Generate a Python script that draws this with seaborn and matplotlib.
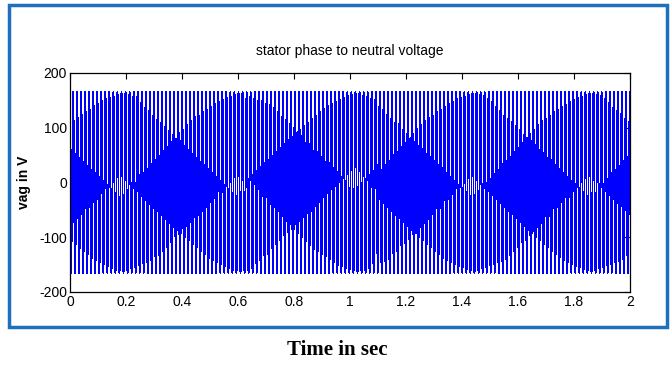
import matplotlib
matplotlib.use("Agg")
import matplotlib.pyplot as plt
import numpy as np
import pandas as pd
import seaborn as sns
from matplotlib.patches import Rectangle

# values
peak_voltage = 165.0          # V, height of the teeth
supply_freq = 69.4            # Hz, dense teeth over 2 s
start_phase_deg = 166.2       # waveform starts near +40 V, going down
time_span = [0.0, 2.0]        # s
sample_step = 5e-5            # s

x_ticks = [0, 0.2, 0.4, 0.6, 0.8, 1, 1.2, 1.4, 1.6, 1.8, 2]
x_tick_labels = ["0", "0.2", "0.4", "0.6", "0.8", "1", "1.2", "1.4", "1.6", "1.8", "2"]
y_ticks = [-200, -100, 0, 100, 200]
y_tick_labels = ["-200", "-100", "0", "100", "200"]


def main():
    sns.set_theme(style="white")
    plt.rcParams["font.family"] = ["Liberation Sans", "DejaVu Sans"]
    plt.rcParams["text.color"] = "black"
    plt.rcParams["axes.labelcolor"] = "black"

    t = np.arange(time_span[0], time_span[1] + sample_step, sample_step)
    vag = peak_voltage * np.sin(2 * np.pi * supply_freq * t + np.deg2rad(start_phase_deg))
    df = pd.DataFrame({"time": t, "vag": vag})

    fig = plt.figure(figsize=(6.72, 3.67), dpi=100)
    ax = fig.add_axes([0.104, 0.2044, 0.8333, 0.597])

    # aliased (MATLAB-like) 1 px rendering gives the moire bands of the original
    sns.lineplot(data=df, x="time", y="vag", ax=ax, color="#0000ff",
                 linewidth=0.6, estimator=None, sort=False, antialiased=False)

    ax.set_xlim(time_span)
    ax.set_ylim(-200, 200)
    ax.set_xticks(x_ticks)
    ax.set_xticklabels(x_tick_labels)
    ax.set_yticks(y_ticks)
    ax.set_yticklabels(y_tick_labels)
    ax.tick_params(direction="in", length=4, width=0.8, top=True, right=True,
                   labelsize=10, pad=2, colors="black")
    for side in ax.spines.values():
        side.set_color("black")
        side.set_linewidth(0.9)

    ax.set_title("stator phase to neutral voltage", fontsize=10, pad=13, color="black")
    ax.set_xlabel("")
    ax.set_ylabel("vag in V", fontsize=10, fontweight="bold", labelpad=6)

    fig.patches.append(Rectangle((0.013, 0.108), 0.98, 0.878, transform=fig.transFigure,
                                 fill=False, edgecolor="#1f6fbf", linewidth=2.5))
    fig.text(0.502, 0.045, "Time in sec", ha="center", va="center", color="black",
             family=["Liberation Serif", "DejaVu Serif"], fontweight="bold", fontsize=15)

    fig.savefig("out.png", dpi=100)
    plt.close(fig)


if __name__ == "__main__":
    main()
